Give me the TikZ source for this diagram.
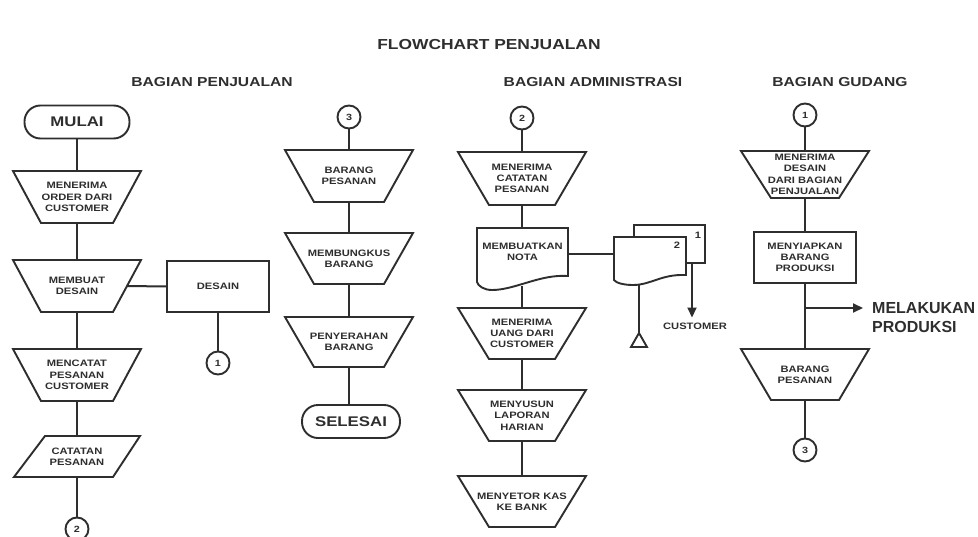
\documentclass[tikz,border=0pt]{standalone}
\usepackage{fontspec}
\setmainfont{Liberation Sans}[FakeStretch=1.2]
\newfontfamily\plainsans{Liberation Sans}
\usetikzlibrary{arrows.meta,calc}
\definecolor{ink}{HTML}{2E2E2E}
\tikzset{
  every node/.style={text=ink},
  lbl/.style={font=\bfseries\fontsize{9.3}{11.3}\selectfont, align=center},
  edge/.style={draw=ink, line width=1.9pt, line join=miter},
  outline/.style={edge, fill=white},
  flow/.style={draw=ink, line width=2pt},
  trapbox/.style={lbl, minimum width=128, inner sep=0, outer sep=0},
  procbox/.style={lbl, outline, minimum width=102, minimum height=51, inner sep=0, outer sep=0},
  terminal/.style={outline, rounded corners=16, minimum height=33, inner sep=0, outer sep=0,
                   font=\bfseries\fontsize{14}{16}\selectfont},
  connector/.style={circle, outline, minimum size=23, inner sep=0, outer sep=0,
                    font=\bfseries\fontsize{9}{10}\selectfont},
  heading/.style={font=\bfseries\fontsize{13}{15}\selectfont},
  arrowhead/.style={-{Triangle[length=10pt,width=9pt]}},
}
% manual operation box: #1 name, #2 x, #3 y, #4 height, #5 inset, #6 text
\newcommand{\trapnode}[6]{%
  \node[trapbox, minimum height=#4] (#1) at (#2,#3) {#6};
  \draw[edge] (#1.north west) -- (#1.north east) -- ([xshift=-#5]#1.south east)
     -- ([xshift=#5]#1.south west) -- cycle;}
\begin{document}
\begin{tikzpicture}[x=1pt,y=-1pt]
\path[use as bounding box, fill=white] (0,0) rectangle (978,536);

% headings
\node[heading, font=\bfseries\fontsize{14.5}{16}\selectfont] (title) at (489,45) {FLOWCHART PENJUALAN};
\node[heading] (hsales) at (212,82) {BAGIAN PENJUALAN};
\node[heading] (hadmin) at (593,82) {BAGIAN ADMINISTRASI};
\node[heading] (hstore) at (840,82) {BAGIAN GUDANG};

% ---- Bagian Penjualan, first column
\node[terminal, minimum width=105] (start) at (77,122) {MULAI};
\trapnode{order}{77}{197}{52}{28}{MENERIMA\\ORDER DARI\\CUSTOMER}
\trapnode{design}{77}{286}{52}{28}{MEMBUAT\\DESAIN}
\node[procbox] (desain) at (218,286.5) {DESAIN};
\node[connector] (ca1) at (218,363) {1};
\trapnode{record}{77}{375}{52}{28}{MENCATAT\\PESANAN\\CUSTOMER}
\node[trapbox, minimum width=126, minimum height=41] (notes) at (77,456.5) {CATATAN\\PESANAN};
\draw[edge] ([xshift=31]notes.north west) -- (notes.north east)
   -- ([xshift=-27]notes.south east) -- (notes.south west) -- cycle;
\node[connector] (ca2) at (77,529) {2};

\draw[flow] (start) -- (order);
\draw[flow] (order) -- (design);
\draw[flow] (design) -- (record);
\draw[flow] (record) -- (notes);
\draw[flow] (notes) -- (ca2);
\draw[flow] ([xshift=-14]design.east) -- (desain.west);
\draw[flow] (desain) -- (ca1);

% ---- Bagian Penjualan, second column
\node[connector] (cb3) at (349,117) {3};
\trapnode{goods}{349}{176}{52}{29}{BARANG\\PESANAN}
\trapnode{wrap}{349}{258.5}{51}{29}{MEMBUNGKUS\\BARANG}
\trapnode{handover}{349}{342}{50}{29}{PENYERAHAN\\BARANG}
\node[terminal, minimum width=98] (finish) at (351,421.5) {SELESAI};

\draw[flow] (cb3) -- (goods);
\draw[flow] (goods) -- (wrap);
\draw[flow] (wrap) -- (handover);
\draw[flow] (handover.south) -- (handover.south |- finish.north);

% ---- Bagian Administrasi
\node[connector] (cc2) at (522,118) {2};
\trapnode{receive}{522}{178.5}{53}{31}{MENERIMA\\CATATAN\\PESANAN}
\node[lbl, minimum width=91, minimum height=48, inner sep=0, outer sep=0] (nota) at (522.5,252) {MEMBUATKAN\\NOTA};
\draw[edge] (nota.north west) -- (nota.north east) -- ++(0,48)
   .. controls +(-28,-2) and +(23,0) .. ++(-76,14)
   .. controls +(-8,0) and +(1,4) .. ++(-15,-8) -- cycle;
\coordinate (notafoot) at (522,286);
\trapnode{cash}{522}{333.5}{51}{31}{MENERIMA\\UANG DARI\\CUSTOMER}
\trapnode{report}{522}{415.5}{51}{31}{MENYUSUN\\LAPORAN\\HARIAN}
\trapnode{bank}{522}{501.5}{51}{31}{MENYETOR KAS\\KE BANK}

\draw[flow] (cc2) -- (receive);
\draw[flow] (receive) -- (nota.north -| receive.south);
\draw[flow] (notafoot) -- (cash.north);
\draw[flow] (cash) -- (report);
\draw[flow] (report) -- (bank);

% two-copy document
\node[minimum width=71, minimum height=38, inner sep=0, outer sep=0] (copy1) at (669.5,244) {};
\node[minimum width=72, minimum height=38, inner sep=0, outer sep=0] (copy2) at (650,256) {};
\draw[outline] (copy1.north west) rectangle (copy1.south east);
\draw[outline] (copy2.north west) -- (copy2.north east) -- (copy2.south east)
   .. controls +(-25,-1) and +(18,0) .. ++(-53,10)
   .. controls +(-9,0) and +(2,3) .. ++(-19,-5) -- cycle;
\node[lbl] (lab1) at (698,235) {1};
\node[lbl] (lab2) at (677,245) {2};
\draw[flow] ([yshift=-2]nota.east) -- ([yshift=-2]nota.east -| copy2.west);

\coordinate (copy2foot) at (639,285);
\coordinate (archive) at (639,333);
\draw[flow] (copy2foot) -- (archive);
\draw[edge] (archive) -- ++(8,14) -- ++(-16,0) -- cycle;

\node[lbl, inner sep=1] (cust) at (695,326) {CUSTOMER};
\coordinate (copy1foot) at (692,263);
\draw[flow, arrowhead, shorten >=4pt] (copy1foot) -- (copy1foot |- cust.north);

% ---- Bagian Gudang
\node[connector] (cd1) at (805,115) {1};
\node[trapbox, minimum height=47, font=\bfseries\fontsize{9.3}{11.4}\selectfont] (designin) at (805,174.5) {MENERIMA\\DESAIN\\DARI BAGIAN\\PENJUALAN};
\draw[edge] (designin.north west) -- (designin.north east) -- ([xshift=-30]designin.south east)
   -- ([xshift=30]designin.south west) -- cycle;
\node[procbox] (prep) at (805,257.5) {MENYIAPKAN\\BARANG\\PRODUKSI};
\trapnode{stock}{805}{374.5}{51}{30}{BARANG\\PESANAN}
\node[connector] (cd3) at (805,450) {3};

\draw[flow] (cd1) -- (designin);
\draw[flow] (designin) -- (prep);
\draw[flow] (prep) -- (stock);
\draw[flow] (stock) -- (cd3);

\node[font=\plainsans\bfseries\fontsize{16}{19}\selectfont, align=left, anchor=west, inner sep=0] (produce) at (872,318) {MELAKUKAN\\PRODUKSI};
\coordinate (branch) at ($(prep.south)+(0,25)$);
\draw[flow, arrowhead, shorten >=9pt] (branch) -- (branch -| produce.west);
\end{tikzpicture}
\end{document}
